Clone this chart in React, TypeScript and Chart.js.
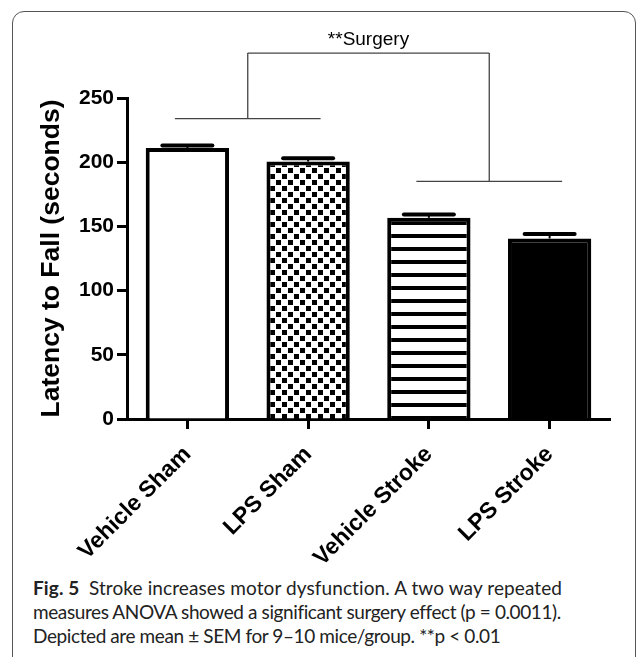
import React, { useEffect, useRef } from "react";
import { Chart, registerables } from "chart.js";

Chart.register(...registerables);

// ---- data ----
const categories = ["Vehicle Sham", "LPS Sham", "Vehicle Stroke", "LPS Stroke"];
const means = [211, 200.5, 156.7, 140.6];
const sems = [2, 2.5, 2.5, 3.5];
const yMin = 0;
const yMax = 250;
const yStep = 50;
const bracketGroups = [
  [0, 1],
  [2, 3],
];
const bracketLevels = [234, 185];
const bracketTop = 285;
const sigLabel = "**Surgery";
const yTitle = "Latency to Fall (seconds)";
const captionBold = "Fig. 5";
const captionLine1 = "Stroke increases motor dysfunction. A two way repeated";
const captionLine2 = "measures ANOVA showed a significant surgery effect (p = 0.0011).";
const captionLine3 = "Depicted are mean \u00b1 SEM for 9\u201310 mice/group. **p < 0.01";

const FONT = "'Liberation Sans', Arial, Helvetica, sans-serif";

function makeChecker(): CanvasPattern | string {
  const c = document.createElement("canvas");
  c.width = 12;
  c.height = 12;
  const g = c.getContext("2d");
  if (!g) return "#888";
  g.fillStyle = "#fff";
  g.fillRect(0, 0, 12, 12);
  g.fillStyle = "#000";
  g.fillRect(0, 0, 5, 5);
  g.fillRect(6, 6, 5, 5);
  return g.createPattern(c, "repeat") || "#888";
}

function makeStripes(): CanvasPattern | string {
  const c = document.createElement("canvas");
  c.width = 8;
  c.height = 13;
  const g = c.getContext("2d");
  if (!g) return "#888";
  g.fillStyle = "#fff";
  g.fillRect(0, 0, 8, 13);
  g.fillStyle = "#000";
  g.fillRect(0, 0, 8, 4);
  return g.createPattern(c, "repeat") || "#888";
}

export default function App() {
  const ref = useRef<HTMLCanvasElement | null>(null);

  useEffect(() => {
    if (!ref.current) return;
    const fills = ["#ffffff", makeChecker(), makeStripes(), "#000000"];

    const annot = {
      id: "annot",
      afterDatasetsDraw(chart: any) {
        const ctx = chart.ctx;
        const y = chart.scales.y;
        const meta = chart.getDatasetMeta(0);
        ctx.save();
        // error bars (upper only)
        ctx.strokeStyle = "#000";
        meta.data.forEach((bar: any, i: number) => {
          const top = y.getPixelForValue(means[i]);
          const eb = y.getPixelForValue(means[i] + sems[i]);
          ctx.lineWidth = 2;
          ctx.lineCap = "butt";
          ctx.beginPath();
          ctx.moveTo(bar.x, top);
          ctx.lineTo(bar.x, eb);
          ctx.stroke();
          ctx.lineWidth = 4;
          ctx.lineCap = "round";
          const hw = bar.width * 0.3;
          ctx.beginPath();
          ctx.moveTo(bar.x - hw, eb);
          ctx.lineTo(bar.x + hw, eb);
          ctx.stroke();
        });
        // brackets
        ctx.strokeStyle = "#444";
        ctx.lineWidth = 1.3;
        ctx.lineCap = "butt";
        const topY = y.getPixelForValue(bracketTop);
        const mids: number[] = [];
        bracketGroups.forEach((grp, gi) => {
          const a = meta.data[grp[0]];
          const b = meta.data[grp[1]];
          const ext = a.width * 0.15;
          const ly = y.getPixelForValue(bracketLevels[gi]);
          ctx.beginPath();
          ctx.moveTo(a.x - ext, ly);
          ctx.lineTo(b.x + ext, ly);
          ctx.stroke();
          const mid = (a.x + b.x) / 2;
          mids.push(mid);
          ctx.beginPath();
          ctx.moveTo(mid, ly);
          ctx.lineTo(mid, topY);
          ctx.stroke();
        });
        ctx.beginPath();
        ctx.moveTo(mids[0], topY);
        ctx.lineTo(mids[1], topY);
        ctx.stroke();
        ctx.fillStyle = "#000";
        ctx.font = "19px " + FONT;
        ctx.textAlign = "center";
        ctx.textBaseline = "alphabetic";
        ctx.fillText(sigLabel, (mids[0] + mids[1]) / 2, topY - 8);
        ctx.restore();
      },
    };

    const chart = new Chart(ref.current, {
      type: "bar",
      data: {
        labels: categories,
        datasets: [
          {
            data: means,
            backgroundColor: fills as any,
            borderColor: "#000",
            borderWidth: 4,
            borderSkipped: "start",
            categoryPercentage: 1,
            barPercentage: 0.69,
          },
        ],
      },
      options: {
        responsive: false,
        animation: false,
        devicePixelRatio: 1,
        layout: { padding: { left: 0, top: 98, right: 27, bottom: 0 } },
        plugins: { legend: { display: false }, tooltip: { enabled: false }, title: { display: false } },
        scales: {
          x: {
            grid: {
              offset: false,
              drawOnChartArea: false,
              drawTicks: true,
              tickLength: 10,
              tickWidth: 3,
              tickColor: "#000",
            },
            border: { display: true, width: 3, color: "#000" },
            ticks: {
              maxRotation: 45,
              minRotation: 45,
              color: "#000",
              padding: 12,
              font: { family: FONT, size: 23, weight: "bold" },
            },
            afterFit: (s: any) => {
              s.height = 151;
            },
          },
          y: {
            min: yMin,
            max: yMax,
            ticks: {
              stepSize: yStep,
              color: "#000",
              padding: 3,
              font: { family: FONT, size: 21, weight: "bold" },
            },
            grid: {
              drawOnChartArea: false,
              drawTicks: true,
              tickLength: 10,
              tickWidth: 3,
              tickColor: "#000",
            },
            border: { display: true, width: 3, color: "#000" },
            title: {
              display: true,
              text: yTitle,
              color: "#000",
              padding: { top: 36, bottom: 0 },
              font: { family: FONT, size: 26.5, weight: "bold" },
            },
            afterFit: (s: any) => {
              s.width = 127;
            },
          },
        },
      },
      plugins: [annot],
    });
    return () => chart.destroy();
  }, []);

  return (
    <div
      style={{
        position: "absolute",
        left: 0,
        top: 0,
        width: 637,
        height: 657,
        overflow: "hidden",
        background: "#fff",
      }}
    >
      <div
        style={{
          position: "absolute",
          left: 12,
          top: 11,
          width: 622,
          height: 720,
          border: "1px solid #555",
          borderRadius: 12,
        }}
      />
      <canvas
        ref={ref}
        width={637}
        height={570}
        style={{ position: "absolute", left: 0, top: 0, width: 637, height: 570 }}
      />
      <div
        style={{
          position: "absolute",
          left: 33,
          top: 576,
          width: 600,
          fontFamily: "Lato, 'Open Sans', sans-serif",
          fontSize: 19,
          lineHeight: "24px",
          color: "#222",
          whiteSpace: "nowrap",
        }}
      >
        <div style={{ letterSpacing: "0.1px" }}>
          <b>{captionBold}</b>
          {"\u2002" + captionLine1}
        </div>
        <div style={{ letterSpacing: "-0.4px" }}>{captionLine2}</div>
        <div style={{ letterSpacing: "-0.4px" }}>{captionLine3}</div>
      </div>
    </div>
  );
}
